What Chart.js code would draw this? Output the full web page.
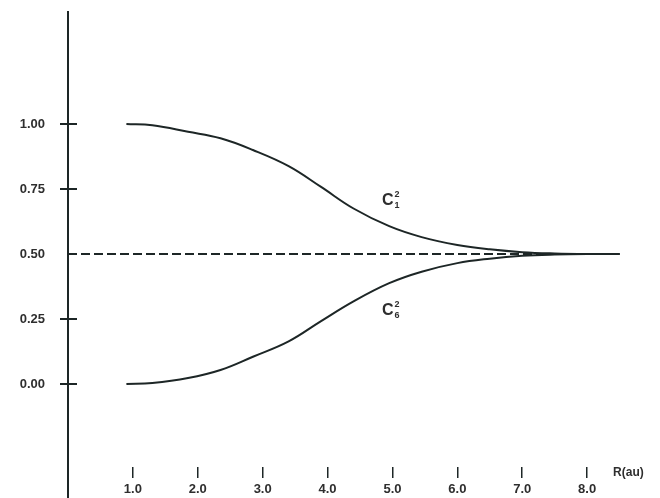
<!DOCTYPE html>
<html>
<head>
<meta charset="utf-8">
<script src="https://cdn.jsdelivr.net/npm/chart.js@4.4.1/dist/chart.umd.min.js"></script>
<style>
  body { margin: 0; background: #fff; }
</style>
</head>
<body>
<canvas id="chart" width="660" height="498"></canvas>
<script>
// values
const rValues = [0.9, 1.3, 1.85, 2.35, 2.85, 3.4, 3.9, 4.4, 4.95, 5.45, 6.0, 6.5, 7.0, 7.5, 8.0, 8.5];
const c1Values = [1.0, 0.995, 0.97, 0.945, 0.90, 0.838, 0.758, 0.675, 0.607, 0.565, 0.535, 0.518, 0.507, 0.502, 0.5, 0.5];
const c6Values = [0.0, 0.004, 0.023, 0.054, 0.105, 0.164, 0.242, 0.318, 0.388, 0.432, 0.465, 0.482, 0.493, 0.498, 0.5, 0.5];
const dashR = [0, 8.5];
const dashValues = [0.5, 0.5];
const xTicks = [1, 2, 3, 4, 5, 6, 7, 8];
const yTicks = [0, 0.25, 0.5, 0.75, 1.0];
const curveLabels = [
  { x: 4.84, y: 0.706, sup: '2', sub: '1' },
  { x: 4.84, y: 0.283, sup: '2', sub: '6' }
];

const ink = '#1d2626';
const textInk = '#2e2e2e';
const font = 'Liberation Sans, Arial, sans-serif';

function toPoints(xs, ys) {
  return xs.map((x, i) => ({ x: x, y: ys[i] }));
}

const extras = {
  id: 'extras',
  afterDraw(chart) {
    const ctx = chart.ctx;
    const xs = chart.scales.x;
    const ys = chart.scales.y;
    const area = chart.chartArea;
    ctx.save();
    // y axis continues below the plot
    ctx.strokeStyle = ink;
    ctx.lineWidth = 2;
    ctx.beginPath();
    ctx.moveTo(area.left, area.bottom);
    ctx.lineTo(area.left, chart.height);
    ctx.stroke();
    // inner half of the y tick marks
    yTicks.forEach(v => {
      if (v === 0.5) return;
      const py = ys.getPixelForValue(v);
      ctx.beginPath();
      ctx.moveTo(area.left, py);
      ctx.lineTo(area.left + 9, py);
      ctx.stroke();
    });
    // axis name
    ctx.fillStyle = textInk;
    ctx.font = 'bold 12px ' + font;
    ctx.textBaseline = 'middle';
    ctx.textAlign = 'left';
    ctx.fillText('R(au)', xs.getPixelForValue(8) + 26, 473);
    // curve labels
    curveLabels.forEach(l => {
      const px = xs.getPixelForValue(l.x);
      const py = ys.getPixelForValue(l.y);
      ctx.font = 'bold 16px ' + font;
      ctx.fillText('C', px, py);
      const w = ctx.measureText('C').width;
      ctx.font = 'bold 9px ' + font;
      ctx.fillText(l.sup, px + w + 1, py - 6);
      ctx.fillText(l.sub, px + w + 1, py + 5);
    });
    ctx.restore();
  }
};

const lineStyle = {
  borderColor: ink,
  borderWidth: 2,
  pointRadius: 0,
  fill: false,
  tension: 0.4
};

new Chart(document.getElementById('chart'), {
  type: 'scatter',
  data: {
    datasets: [
      Object.assign({ label: 'C1^2', data: toPoints(rValues, c1Values), showLine: true }, lineStyle),
      Object.assign({ label: 'C6^2', data: toPoints(rValues, c6Values), showLine: true }, lineStyle),
      {
        label: 'half', data: toPoints(dashR, dashValues), showLine: true,
        borderColor: ink, borderWidth: 2, borderDash: [9, 4], pointRadius: 0
      }
    ]
  },
  options: {
    responsive: false,
    devicePixelRatio: 1,
    animation: false,
    layout: { padding: { top: 12, right: 8, left: 0, bottom: 0 } },
    plugins: { legend: { display: false }, tooltip: { enabled: false } },
    scales: {
      x: {
        type: 'linear',
        min: 0,
        max: 9,
        afterBuildTicks: s => { s.ticks = xTicks.map(v => ({ value: v })); },
        afterFit: s => { s.height = 31; s.paddingLeft = 0; s.paddingRight = 0; },
        border: { display: false },
        grid: { drawOnChartArea: false, drawTicks: true, tickLength: 11, color: ink, lineWidth: 1.5 },
        ticks: {
          padding: 4,
          color: textInk,
          font: { family: font, size: 13, weight: 'bold' },
          callback: v => v.toFixed(1)
        }
      },
      y: {
        type: 'linear',
        min: -0.3192,
        max: 1.4308,
        afterBuildTicks: s => { s.ticks = yTicks.map(v => ({ value: v })); },
        afterFit: s => { s.width = 68; s.paddingTop = 0; s.paddingBottom = 0; },
        border: { display: true, color: ink, width: 2 },
        grid: {
          drawOnChartArea: false, drawTicks: true, tickLength: 8, lineWidth: 2,
          color: c => (c.tick && c.tick.value === 0.5) ? 'rgba(0,0,0,0)' : ink
        },
        ticks: {
          padding: 15,
          color: textInk,
          font: { family: font, size: 13, weight: 'bold' },
          callback: v => v.toFixed(2)
        }
      }
    }
  },
  plugins: [extras]
});
</script>
</body>
</html>
